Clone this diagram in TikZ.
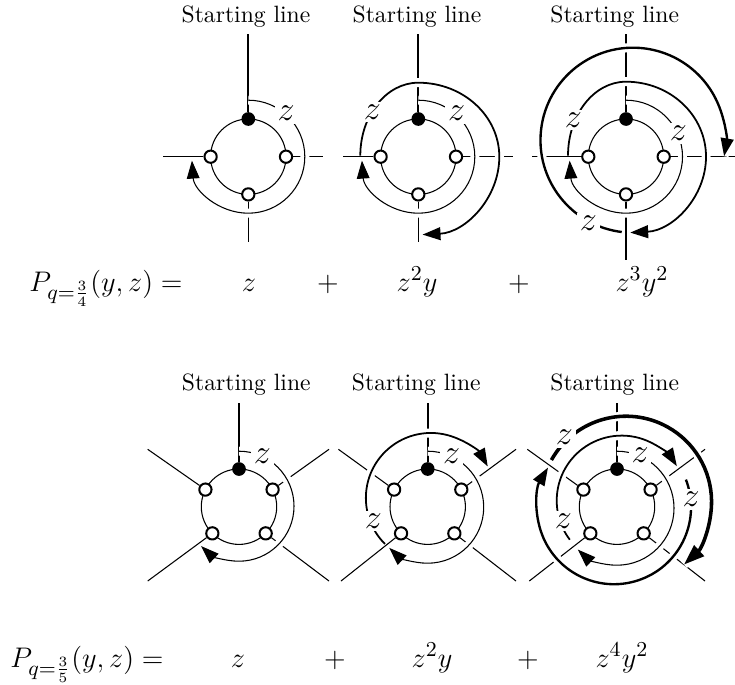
\documentclass[tikz,border=0pt]{standalone}
\usepackage{amsmath}
\usetikzlibrary{arrows.meta}
\begin{document}
\begin{tikzpicture}[
	x=0.4235pt,y=0.4235pt,
	line join=round,
	>={Triangle[length=7.6pt,width=5.4pt]},
	thinline/.style={line width=0.45pt},
	startline/.style={line width=0.75pt},
	halo/.style={preaction={draw=white,line width=3.8pt,-}},
	arcone/.style={->,halo,line width=0.45pt},
	arctwo/.style={->,halo,line width=0.75pt},
	arcthree/.style={->,halo,line width=1pt},
	arcfour/.style={-{Triangle[length=8.8pt,width=6pt]},halo,line width=1.5pt},
	hole/.style={circle,draw,fill=white,line width=0.85pt,inner sep=0pt,minimum size=5.2pt},
	blackdot/.style={circle,fill=black,inner sep=0pt,minimum size=5.8pt},
	zlabel/.style={fill=white,inner sep=1.2pt,font=\fontsize{14}{14}\selectfont},
	formula/.style={anchor=base,font=\fontsize{13}{15}\selectfont},
	]
	
	\useasboundingbox (0,0) rectangle (735,684);
	
	% Nhãn đường xuất phát
	\foreach \n/\x/\y in {1/246/667, 2/417/667, 3/614.7/667, 4/246.3/299, 5/416.3/299, 6/614.7/299}{
		\node (title\n) at (\x,\y) {Starting line};
	}
	
	% Vòng bốn điểm
	\foreach \n/\cx/\l/\r/\b in {a/248.3/85/75/85, b/418.3/75/95/85, c/626/94/109/103}{
		\begin{scope}[shift={(\cx,527.3)}]
			\draw[thinline] (0,0) circle (37.7);
			\node[blackdot] (\n1) at (90:37.7) {};
			\node[hole] (\n2) at (0:37.7) {};
			\node[hole] (\n3) at (-90:37.7) {};
			\node[hole] (\n4) at (180:37.7) {};
			\coordinate (\n5) at (0,122.7);
			\coordinate (\n6) at (\r,0);
			\coordinate (\n7) at (0,-\b);
			\coordinate (\n8) at (-\l,0);
			\draw[startline] (\n1) -- (\n5);
			\foreach \i/\j in {2/6, 3/7, 4/8}{
				\draw[thinline] (\n\i) -- (\n\j);
			}
		\end{scope}
	}
	
	% Vòng năm điểm
	\foreach \n/\cx/\ul/\ur/\ll/\lr in {d/239/91.3/90/91.3/90, e/427.7/89.3/88.3/86.7/88.3, f/617/89.7/88/87.7/88}{
		\begin{scope}[shift={(\cx,177.3)}]
			\draw[thinline] (0,0) circle (37.7);
			\node[blackdot] (\n1) at (90:37.7) {};
			\node[hole] (\n2) at (27:37.7) {};
			\node[hole] (\n3) at (-45:37.7) {};
			\node[hole] (\n4) at (225:37.7) {};
			\node[hole] (\n5) at (153:37.7) {};
			\coordinate (\n6) at (0,104);
			\coordinate (\n7) at (\ur,57.4);
			\coordinate (\n8) at (\lr,-74.3);
			\coordinate (\n9) at (-\ll,-74.3);
			\coordinate (\n0) at (-\ul,57.4);
			\draw[startline] (\n1) -- (\n6);
			\foreach \i/\j in {2/7, 3/8, 4/9, 5/0}{
				\draw[thinline] (\n\i) -- (\n\j);
			}
		\end{scope}
	}
	
	% Các cung, hình 1
	\begin{scope}[shift={(248.3,527.3)}]
		\draw[arcone] (90:56.5) arc[start angle=90,end angle=-176,radius=56.5];
		\node[zlabel] (za1) at (37.7,43.3) {$z$};
	\end{scope}
	
	% Các cung, hình 2
	\begin{scope}[shift={(418.3,527.3)}]
		\draw[arcone] (90:56.5) arc[start angle=90,end angle=-176,radius=56.5];
		\draw[arctwo] (-58,1) arc[start angle=180,end angle=90,x radius=58,y radius=73]
			arc[start angle=90,end angle=0,x radius=81,y radius=74]
			arc[start angle=0,end angle=-87,x radius=81,y radius=78];
		\node[zlabel] (zb1) at (38.3,43.3) {$z$};
		\node[zlabel] (zb2) at (-46,45) {$z$};
	\end{scope}
	
	% Các cung, hình 3
	\begin{scope}[shift={(626,527.3)}]
		\draw[arcone] (90:56.5) arc[start angle=90,end angle=-176,radius=56.5];
		\draw[arctwo] (-58,1) arc[start angle=180,end angle=90,x radius=58,y radius=74]
			arc[start angle=90,end angle=0,x radius=80,y radius=75]
			arc[start angle=0,end angle=-87,x radius=80,y radius=76];
		\draw[arcthree] (-4.3,-75.3) arc[start angle=263,end angle=-10,radius=92.5];
		\node[zlabel] (zc1) at (52.3,23.3) {$z$};
		\node[zlabel] (zc2) at (-52.7,36.7) {$z$};
		\node[zlabel] (zc3) at (-37.7,-66) {$z$};
	\end{scope}
	
	% Các cung, hình 4
	\begin{scope}[shift={(239,177.3)}]
		\draw[arcone] (90:55.5) arc[start angle=90,end angle=-133.5,radius=55];
		\node[zlabel] (zd1) at (23.3,50.7) {$z$};
	\end{scope}
	
	% Các cung, hình 5
	\begin{scope}[shift={(427.7,177.3)}]
		\draw[arcone] (90:55.5) arc[start angle=90,end angle=-133.5,radius=56];
		\draw[arctwo] (-42.8,-37.2) arc[start angle=225,end angle=29,radius=65];
		\node[zlabel] (ze1) at (24,50.7) {$z$};
		\node[zlabel] (ze2) at (-54.3,-14) {$z$};
	\end{scope}
	
	% Các cung, hình 6
	\begin{scope}[shift={(617,177.3)}]
		\draw[arcone] (90:55.5) arc[start angle=90,end angle=-133.5,radius=57];
		\draw[arctwo] (-47.2,-33) arc[start angle=217,end angle=32,radius=65];
		\draw[arcthree] (68.9,27.1) arc[start angle=21,end angle=-211,radius=77];
		\draw[arcfour] (-65.6,46.7) arc[start angle=150.8,end angle=-47.4,radius=85.5];
		\node[zlabel] (zf1) at (23,51.7) {$z$};
		\node[zlabel] (zf2) at (-53.7,-14) {$z$};
		\node[zlabel] (zf3) at (74,7.3) {$z$};
		\node[zlabel] (zf4) at (-52.7,69.3) {$z$};
	\end{scope}
	
	% Hàng công thức trên
	\node[formula] (p1) at (106,393) {$P_{q=\frac{3}{4}}(y,z)=$};
	\foreach \n/\x/\t in {1/249/z, 2/328/+, 3/417/z^2y, 4/519/+, 5/642/z^3y^2}{
		\node[formula] (ra\n) at (\x,393) {$\t$};
	}
	
	% Hàng công thức dưới
	\node[formula] (p2) at (87,17) {$P_{q=\frac{3}{5}}(y,z)=$};
	\foreach \n/\x/\t in {1/238/z, 2/335/+, 3/432/z^2y, 4/528/+, 5/622/z^4y^2}{
		\node[formula] (rb\n) at (\x,17) {$\t$};
	}
	
\end{tikzpicture}
\end{document}
